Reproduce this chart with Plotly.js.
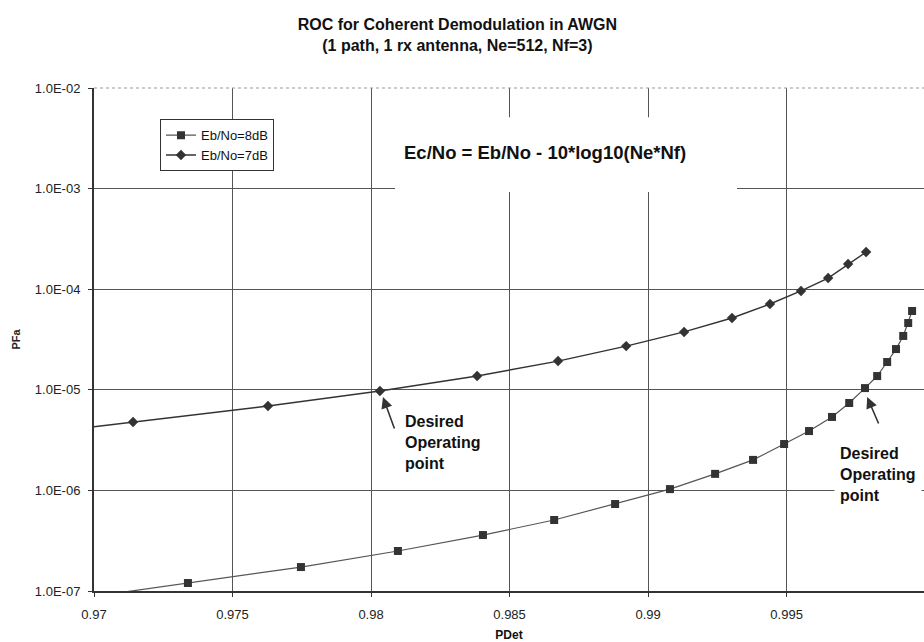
<!DOCTYPE html>
<html>
<head>
<meta charset="utf-8">
<script src="https://cdn.plot.ly/plotly-3.0.1.min.js"></script>
<style>html,body{margin:0;padding:0;background:#fff;}#chart{width:924px;height:642px;}</style>
</head>
<body>
<div id="chart"></div>
<script>
// Eb/No = 8 dB (squares)
const pdet8 = [0.9690, 0.97339, 0.97747, 0.98097, 0.98404, 0.98661, 0.98881, 0.99079, 0.99242, 0.99379, 0.99491, 0.99581, 0.99664, 0.99726, 0.99783, 0.99827, 0.99863, 0.99895, 0.99921, 0.99939, 0.99953];
const pfa8  = [8.1e-8, 1.20e-7, 1.73e-7, 2.50e-7, 3.60e-7, 5.08e-7, 7.32e-7, 1.03e-6, 1.46e-6, 2.01e-6, 2.89e-6, 3.89e-6, 5.37e-6, 7.39e-6, 1.04e-5, 1.37e-5, 1.89e-5, 2.54e-5, 3.43e-5, 4.61e-5, 6.07e-5];
// Eb/No = 7 dB (diamonds)
const pdet7 = [0.9690, 0.97141, 0.97628, 0.98032, 0.98383, 0.98675, 0.98921, 0.99130, 0.99303, 0.99440, 0.99552, 0.99650, 0.99722, 0.99787];
const pfa7  = [3.98e-6, 4.79e-6, 6.90e-6, 9.73e-6, 1.37e-5, 1.93e-5, 2.72e-5, 3.76e-5, 5.17e-5, 7.13e-5, 9.60e-5, 1.29e-4, 1.78e-4, 2.34e-4];

const seriesNames = ["Eb/No=8dB", "Eb/No=7dB"];
const xTickVals = [0.97, 0.975, 0.98, 0.985, 0.99, 0.995];
const xTickText = ["0.97", "0.975", "0.98", "0.985", "0.99", "0.995"];
const yTickVals = [1e-7, 1e-6, 1e-5, 1e-4, 1e-3, 1e-2];
const yTickText = ["1.0E-07", "1.0E-06", "1.0E-05", "1.0E-04", "1.0E-03", "1.0E-02"];

const FONT = "Arial, 'Liberation Sans', sans-serif";

const traces = [
  {
    x: pdet8, y: pfa8, name: seriesNames[0], type: "scatter", mode: "lines+markers",
    line: {color: "#555", width: 1.2},
    marker: {symbol: "square", size: 8, color: "#333"},
    cliponaxis: true
  },
  {
    x: pdet7, y: pfa7, name: seriesNames[1], type: "scatter", mode: "lines+markers",
    line: {color: "#333", width: 1.4},
    marker: {symbol: "diamond", size: 8, color: "#333"},
    cliponaxis: true
  }
];

const layout = {
  width: 924, height: 642,
  paper_bgcolor: "#fff", plot_bgcolor: "#fff",
  margin: {l: 94, r: 0, t: 88, b: 51},
  font: {family: FONT, color: "#111"},
  title: {
    text: "<b>ROC for Coherent Demodulation in AWGN<br>(1 path, 1 rx antenna, Ne=512, Nf=3)</b>",
    font: {size: 16, family: FONT, color: "#111"},
    x: 0.495, xref: "container", xanchor: "center",
    y: 0.953, yref: "container", yanchor: "top"
  },
  xaxis: {
    range: [0.97, 0.99996],
    tickvals: xTickVals, ticktext: xTickText,
    showgrid: true, gridcolor: "#555", gridwidth: 1,
    zeroline: false,
    showline: true, linecolor: "#333", linewidth: 2,
    ticks: "outside", ticklen: 4, tickcolor: "#333",
    ticklabelstandoff: 6,
    tickfont: {size: 13, family: FONT, color: "#222"},
    title: {text: "<b>PDet</b>", font: {size: 12, family: FONT, color: "#111"}, standoff: 12}
  },
  yaxis: {
    type: "log",
    range: [-7, -2],
    tickvals: yTickVals, ticktext: yTickText,
    showgrid: true, gridcolor: "#555", gridwidth: 1,
    zeroline: false,
    showline: true, linecolor: "#333", linewidth: 2,
    ticks: "outside", ticklen: 4, tickcolor: "#333",
    ticklabelstandoff: 5,
    tickfont: {size: 13, family: FONT, color: "#222"},
    title: {text: "<b>PFa</b>", font: {size: 11, family: FONT, color: "#222"}, standoff: 12}
  },
  showlegend: true,
  legend: {
    x: 0.0795, y: 0.938, xanchor: "left", yanchor: "top",
    bgcolor: "#fff", bordercolor: "#333", borderwidth: 1,
    font: {size: 13, family: FONT, color: "#111"},
    itemwidth: 30, tracegroupgap: 0
  },
  shapes: [
    {type: "line", xref: "paper", yref: "paper", x0: 0, x1: 1, y0: 1, y1: 1,
     line: {color: "#999", width: 1, dash: "dot"}, layer: "above"},
    {type: "rect", xref: "paper", yref: "paper", x0: 0.3627, x1: 0.7747, y0: 0.793, y1: 0.942,
     fillcolor: "#fff", line: {width: 0}, layer: "above"}
  ],
  annotations: [
    {text: "<b>Ec/No = Eb/No - 10*log10(Ne*Nf)</b>", xref: "paper", yref: "paper",
     x: 0.5435, y: 0.871, xanchor: "center", yanchor: "middle", showarrow: false,
     font: {size: 18.5, family: FONT, color: "#111"}},
    {text: "<b>Desired<br>Operating<br>point</b>", xref: "x", yref: "y",
     x: 0.98115, y: -5.519, xanchor: "left", yanchor: "middle", align: "left", showarrow: false,
     font: {size: 16, family: FONT, color: "#111"}},
    {text: "", xref: "x", yref: "y", x: 0.98043, y: -5.072, ax: 12, ay: 33,
     showarrow: true, arrowhead: 2, arrowsize: 1.4, arrowwidth: 1.6, arrowcolor: "#333"},
    {text: "<b>Desired<br>Operating<br>point</b>", xref: "x", yref: "y",
     x: 0.99671, y: -5.837, xanchor: "left", yanchor: "middle", align: "left", showarrow: false,
     bgcolor: "#fff", borderpad: 5,
     font: {size: 16, family: FONT, color: "#111"}},
    {text: "", xref: "x", yref: "y", x: 0.99791, y: -5.072, ax: 12, ay: 28,
     showarrow: true, arrowhead: 2, arrowsize: 1.4, arrowwidth: 1.6, arrowcolor: "#333"}
  ]
};

Plotly.newPlot("chart", traces, layout, {staticPlot: true, displayModeBar: false});
</script>
</body>
</html>
